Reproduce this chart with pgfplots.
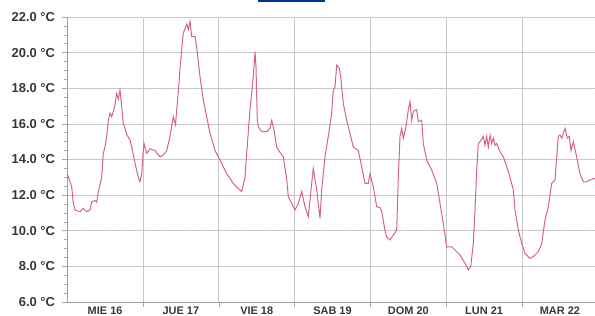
\documentclass[border=0pt]{standalone}
\usepackage{pgfplots}
\pgfplotsset{compat=1.18}
\usepackage{fontspec}
\setmainfont{Liberation Sans}
\definecolor{lin}{RGB}{212,100,132}
\definecolor{gridc}{RGB}{200,200,200}
\definecolor{lab}{RGB}{55,55,55}
\definecolor{ttl}{RGB}{0,51,153}
\begin{document}
\begin{tikzpicture}
\path[use as bounding box] (0,0) rectangle (595bp,316bp);
\fill[ttl] (258bp,313.5bp) rectangle (325bp,316bp);
\begin{axis}[
  at={(67.2bp,14bp)}, anchor=south west,
  scale only axis, width=527.8bp, height=285bp,
  xmin=67.2, xmax=595, ymin=6, ymax=22,
  axis x line=bottom, axis y line=left,
  axis line style={-, draw=gray!75, line width=0.8pt},
  xtick={143,218.8,294.6,370.4,446.2,522}, xticklabels={},
  extra x ticks={105.1,180.9,256.7,332.5,408.3,484.1,559.9},
  extra x tick labels={MIE 16,JUE 17,VIE 18,SAB 19,DOM 20,LUN 21,MAR 22},
  extra x tick style={grid=none, major tick length=0pt,
    tick label style={font=\fontsize{11}{11}\selectfont\bfseries, text=lab, inner sep=0pt, anchor=north, yshift=-5bp}},
  ytick={6,8,...,22}, minor y tick num=3,
  /pgf/number format/assume math mode=true,
  yticklabel={\pgfmathprintnumber[fixed,fixed zerofill,precision=1]{\tick} °C},
  yticklabel style={font=\fontsize{13}{13}\selectfont\bfseries, text=lab, inner sep=0pt, anchor=east, xshift=-7bp},
  xmajorgrids, ymajorgrids,
  major grid style={draw=gridc, line width=0.7pt},
  tick align=outside,
  major tick length=5bp, minor tick length=3bp,
  every tick/.style={draw=gray!70, line width=0.6pt},
  clip=false,
]
\draw[gray!45, line width=0.7pt, dash pattern=on 3bp off 2bp] (axis cs:67.2,10) -- (axis cs:595,10);
\draw[gray!45, line width=0.7pt, dash pattern=on 3bp off 2bp] (axis cs:67.2,18) -- (axis cs:595,18);
\addplot[lin, line width=1pt, mark=none] coordinates {
(67.2,13.2) (71.7,12.47) (73.3,11.54) (75,11.16) (80,11.07) (83.3,11.26) (86.7,11.07) (90,11.16)
(91.7,11.63) (95,11.7) (96.7,11.6) (98.3,12.2) (101.7,13.0) (103.3,14.35) (105,14.7) (106.7,15.3)
(108.3,16.2) (110,16.6) (111.7,16.4) (113.3,16.7) (115,17.06) (116.7,17.7) (118.3,17.4) (120,17.9)
(121.7,17.0) (123.3,16.0) (125,15.75) (126.7,15.4) (130,15.1) (131.7,14.7) (135,13.8) (138.3,13.0)
(140,12.75) (141.7,13.2) (143.3,14.5) (144,14.9) (146.7,14.35) (150,14.6) (155,14.5) (160,14.15)
(163.3,14.25) (166.7,14.5) (170,15.3) (173.3,16.4) (175.5,15.95) (178.3,17.8) (180,19.1) (181.7,20.15)
(183.3,21.1) (186.7,21.6) (188.3,21.3) (190,21.75) (191.7,20.9) (195,20.9) (196.7,20.3) (200,18.65)
(203.3,17.34) (206.7,16.4) (210,15.47) (215,14.5) (220,13.97) (226.7,13.2) (233.3,12.66) (238.3,12.38)
(241.7,12.2) (245,13.0) (246.7,14.35) (250,16.8) (253.3,18.65) (255,20.05) (256,19.2) (257.3,16.2)
(258.3,15.84) (261.7,15.56) (266.7,15.56) (270,15.75) (271.7,16.2) (274,15.65) (276.7,14.7) (280,14.4)
(283.3,14.15) (286.7,12.9) (288.3,11.9) (291.7,11.54) (295,11.16) (298.3,11.54) (301.7,12.2) (305,11.35)
(308.3,10.79) (311.7,12.66) (313.3,13.5) (316.7,12.3) (320,10.7) (321.7,12.3) (325,14.15) (328.3,15.3)
(331.7,16.6) (333.3,17.9) (335,18.09) (336.7,19.3) (339.3,19.12) (340.7,18.65) (343.3,17.15) (346.7,16.2)
(350,15.47) (353.3,14.7) (358.3,14.5) (361.7,13.6) (365,12.66) (368.3,12.66) (370,13.2) (373.3,12.47)
(376.7,11.35) (380,11.3) (381.7,11.1) (385,10.0) (386.7,9.66) (390,9.48) (393.3,9.76) (396.7,10.04)
(398.3,13.0) (400,15.3) (401.7,15.75) (403.3,15.2) (406,15.84) (408.3,16.8) (410,17.24) (411.7,16.2)
(413.3,16.7) (416.7,16.8) (418.3,16.12) (421.7,16.2) (423.3,14.9) (426.7,13.97) (431.7,13.4) (436.7,12.66)
(440,11.54) (443.3,10.4) (446.7,9.1) (451.7,9.1) (455,8.92) (460,8.64) (465,8.17) (468.3,7.8)
(470.7,7.98) (473.3,9.29) (475,11.16) (476.7,13.4) (478.3,14.9) (480,15.0) (483.3,15.3) (485,14.8)
(486.7,15.3) (488.3,14.7) (490,15.37) (491.7,14.9) (493.3,15.2) (495,14.8) (496.7,14.9) (500,14.44)
(503.3,14.15) (506.7,13.6) (510,13.0) (513.3,12.3) (515,11.16) (518.3,10.04) (521.7,9.29) (525,8.73)
(530,8.45) (533.3,8.55) (538.3,8.82) (541.7,9.29) (545,10.6) (548.3,11.35) (551.7,12.66) (555,12.85)
(558.3,15.3) (560,15.37) (561.7,15.2) (565,15.75) (567.3,15.2) (569.3,15.3) (571,14.5) (573.3,15.0)
(576.7,14.15) (580,13.2) (583.3,12.75) (586.7,12.75) (590,12.85) (595,12.94)
};
\end{axis}
\end{tikzpicture}
\end{document}
